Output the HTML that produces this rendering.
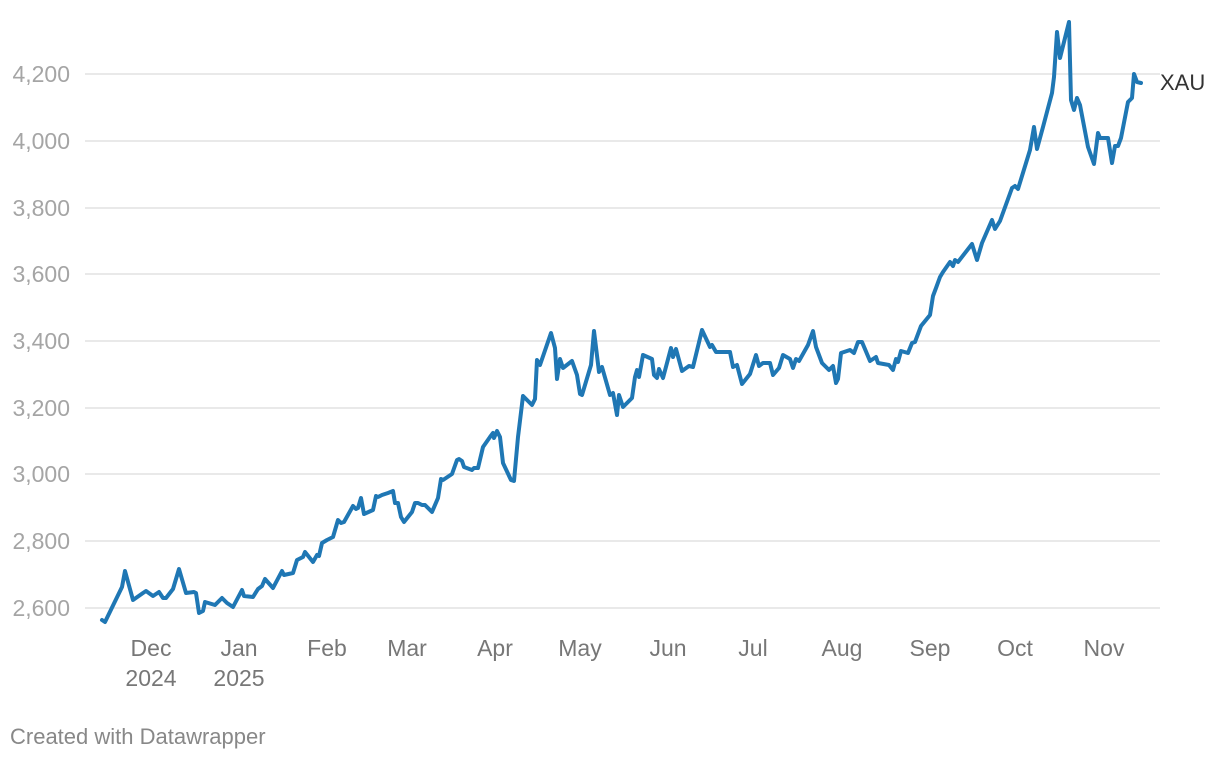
<!DOCTYPE html>
<html><head><meta charset="utf-8"><style>
html,body{margin:0;padding:0;background:#fff;width:1220px;height:760px;overflow:hidden}
svg text{font-family:"Liberation Sans",sans-serif}
</style></head><body>
<svg width="1220" height="760" viewBox="0 0 1220 760" xmlns="http://www.w3.org/2000/svg">
<g stroke="#e2e2e2" stroke-width="1.5">
<line x1="85" x2="1160" y1="74" y2="74"/><line x1="85" x2="1160" y1="141" y2="141"/>
<line x1="85" x2="1160" y1="208" y2="208"/><line x1="85" x2="1160" y1="274" y2="274"/>
<line x1="85" x2="1160" y1="341" y2="341"/><line x1="85" x2="1160" y1="408" y2="408"/>
<line x1="85" x2="1160" y1="474" y2="474"/><line x1="85" x2="1160" y1="541" y2="541"/>
<line x1="85" x2="1160" y1="608" y2="608"/>
</g>
<g fill="#a5a5a5" font-size="23" text-anchor="end">
<text x="70" y="82">4,200</text><text x="70" y="149">4,000</text><text x="70" y="216">3,800</text>
<text x="70" y="282">3,600</text><text x="70" y="349">3,400</text><text x="70" y="416">3,200</text>
<text x="70" y="482">3,000</text><text x="70" y="549">2,800</text><text x="70" y="616">2,600</text>
</g>
<g fill="#777" font-size="23" text-anchor="middle">
<text x="151" y="656">Dec</text><text x="151" y="686">2024</text>
<text x="239" y="656">Jan</text><text x="239" y="686">2025</text>
<text x="327" y="656">Feb</text><text x="407" y="656">Mar</text><text x="495" y="656">Apr</text>
<text x="580" y="656">May</text><text x="668" y="656">Jun</text><text x="753" y="656">Jul</text>
<text x="842" y="656">Aug</text><text x="930" y="656">Sep</text><text x="1015" y="656">Oct</text>
<text x="1104" y="656">Nov</text>
</g>
<polyline fill="none" stroke="#1f77b4" stroke-width="4" stroke-linejoin="round" stroke-linecap="round" points="
102,620 105,622 122,587 125,571 133,600 143,593 146,591 153,596 159,592 163,598 166,598 173,589 179,569 186,593 194,592 196,593 199,613 203,611 205,602 215,605 222,598 227,603 233,607 242,590 244,596 253,597 258,589 262,586 265,579 273,588 282,571 284,575 293,573 297,560 303,557 305,552 313,562 317,555 319,556 322,543 327,540 333,537 338,520 341,523 344,522 353,506 356,509 358,508 361,498 364,514 373,510 376,496 378,497 382,495 388,493 393,491 395,503 398,503 401,517 404,522 412,512 415,503 418,503 422,505 425,505 432,512 438,498 441,479 443,480 452,474 457,460 459,459 462,461 464,467 472,470 474,468 478,468 483,447 490,437 493,433 494,438 497,431 500,437 503,463 511,480 514,481 518,437 523,396 532,405 535,399 537,360 540,365 551,333 555,348 557,379 560,359 563,368 572,361 577,375 580,394 582,395 591,365 594,331 599,372 602,367 610,395 613,393 617,415 619,395 623,407 632,398 635,377 637,370 639,377 643,355 652,359 654,375 657,378 659,369 663,378 671,348 673,357 676,349 682,371 689,366 693,367 702,330 710,347 712,345 716,352 730,352 733,367 737,365 742,384 750,374 756,355 759,366 763,363 770,363 773,375 779,368 783,355 790,359 793,368 796,359 799,361 808,345 813,331 816,347 822,363 829,370 833,366 836,383 838,379 841,353 850,350 854,353 858,342 862,342 870,361 876,357 878,363 889,365 893,370 896,359 898,362 901,351 908,353 912,343 915,342 921,326 930,315 933,296 936,288 940,277 943,272 950,262 953,266 955,260 958,262 972,244 977,260 982,243 992,220 995,229 1000,221 1012,188 1015,186 1018,189 1030,150 1034,127 1037,149 1043,127 1052,93 1054,77 1057,32 1060,58 1069,22 1071,100 1074,110 1077,98 1080,105 1088,147 1094,164 1098,133 1100,138 1108,138 1112,163 1115,146 1118,146 1121,138 1128,102 1132,98 1134,74 1137,82 1141,83"/>
<text x="1160" y="90" fill="#333" font-size="22">XAU</text>
<text x="10" y="744" fill="#888" font-size="22">Created with Datawrapper</text>
</svg>
</body></html>
